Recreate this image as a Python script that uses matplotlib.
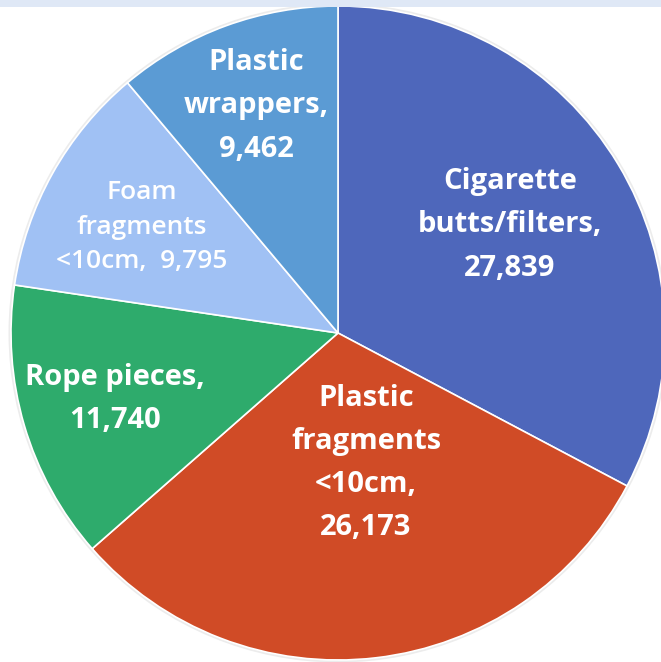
import matplotlib
matplotlib.use("Agg")
import matplotlib.pyplot as plt
from matplotlib.patches import Circle, Rectangle

categories = ["Cigarette\nbutts/filters,", "Plastic\nfragments\n<10cm,", "Rope pieces,",
              "Foam\nfragments\n<10cm, ", "Plastic\nwrappers,"]
values = [27839, 26173, 11740, 9795, 9462]
colors = ["#4e67bb", "#d04b26", "#2eab6c", "#a0c1f4", "#5b9bd4"]

W, H = 661, 662
fig = plt.figure(figsize=(W / 100, H / 100), dpi=100)
ax = fig.add_axes([0, 0, 1, 1])

cx, cy, r = 338, 333, 327

ax.add_patch(Circle((cx, H - cy), r + 2.5, facecolor="#ececec", edgecolor="none", zorder=0))

wedges, _ = ax.pie(values, colors=colors, startangle=90, counterclock=False,
                   center=(cx, H - cy), radius=r, frame=True,
                   wedgeprops=dict(edgecolor="white", linewidth=1.2))
ax.set_xlim(0, W)
ax.set_ylim(0, H)
ax.set_aspect("equal")
ax.axis("off")

ax.add_patch(Rectangle((0, H - 7), W, 7, facecolor="#dfe8f6", edgecolor="none", zorder=5))

labels = [f"{c}\n{v:,}" for c, v in zip(categories, values)]
labels[3] = f"Foam\nfragments\n<10cm,  {values[3]:,}"
pos = [(510, 225), (366, 463), (115, 399), (142, 227), (256, 106)]
for i, (lab, (x, y)) in enumerate(zip(labels, pos)):
    if i == 3:
        ax.text(x, H - y, lab, ha="center", va="center", color="white", fontsize=19,
                family="Open Sans", fontweight="semibold", linespacing=1.52, zorder=6)
    else:
        ax.text(x, H - y, lab, ha="center", va="center", color="white", fontsize=21,
                family="Open Sans", fontweight="bold", linespacing=1.65, zorder=6)

fig.savefig("out.png", dpi=100, facecolor="white")
